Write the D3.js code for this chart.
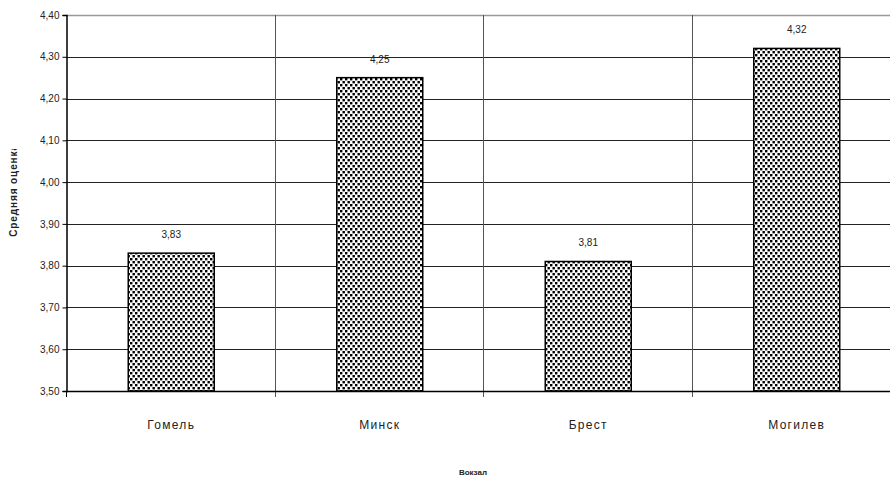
<!DOCTYPE html>
<html>
<head>
<meta charset="utf-8">
<script src="https://cdn.jsdelivr.net/npm/d3@7"></script>
<style>
  html, body { margin: 0; padding: 0; background: #fff; }
  svg { display: block; }
  text { font-family: "Liberation Sans", Arial, sans-serif; fill: #222; }
</style>
</head>
<body>
<div id="chart"></div>
<script>
// Average rating per railway station
const stations = ["Гомель", "Минск", "Брест", "Могилев"];
const ratings = [3.83, 4.25, 3.81, 4.32];
const yTicks = [3.5, 3.6, 3.7, 3.8, 3.9, 4.0, 4.1, 4.2, 4.3, 4.4];
const yTitle = "Средняя оценка";
const xTitle = "Вокзал";

const W = 890, H = 477;
const plot = { left: 66, top: 15, bottom: 391, right: 900 };

const svg = d3.select("#chart").append("svg")
  .attr("width", W).attr("height", H);

// stippled fill for the bars
const defs = svg.append("defs");
const pat = defs.append("pattern")
  .attr("id", "dots").attr("patternUnits", "userSpaceOnUse")
  .attr("width", 5).attr("height", 6);
pat.append("rect").attr("width", 5).attr("height", 6).attr("fill", "#fff");
pat.append("rect").attr("x", 0).attr("y", 0).attr("width", 2.4).attr("height", 2.4).attr("fill", "#000");
pat.append("rect").attr("x", 2.5).attr("y", 3).attr("width", 2.4).attr("height", 2.4).attr("fill", "#000");

// the y-axis title is clipped at its top end
defs.append("clipPath").attr("id", "ytitle-clip")
  .append("rect").attr("x", 0).attr("y", 149).attr("width", 40).attr("height", 200);

const x = d3.scaleBand().domain(stations)
  .range([plot.left, plot.right]).paddingInner(0).paddingOuter(0);
const y = d3.scaleLinear().domain([3.5, 4.4]).range([plot.bottom, plot.top]);

const fmt = v => d3.format(".2f")(v).replace(".", ",");

// horizontal gridlines
svg.append("g").selectAll("line").data(yTicks.slice(1))
  .join("line")
  .attr("x1", plot.left).attr("x2", plot.right)
  .attr("y1", d => Math.round(y(d)) + 0.5).attr("y2", d => Math.round(y(d)) + 0.5)
  .attr("stroke", (d, i, n) => i === n.length - 1 ? "#999" : "#222")
  .attr("stroke-width", (d, i, n) => i === n.length - 1 ? 1.5 : 1);

// vertical category separators
svg.append("g").selectAll("line").data(stations.slice(1))
  .join("line")
  .attr("x1", d => Math.round(x(d)) + 0.5).attr("x2", d => Math.round(x(d)) + 0.5)
  .attr("y1", plot.top).attr("y2", plot.bottom + 6)
  .attr("stroke", "#555").attr("stroke-width", 1);

// bars
const barW = 86;
svg.append("g").selectAll("rect").data(stations)
  .join("rect")
  .attr("x", (d) => x(d) + x.bandwidth() / 2 - barW / 2 + 1)
  .attr("y", (d, i) => y(ratings[i]))
  .attr("width", barW)
  .attr("height", (d, i) => y(3.5) - y(ratings[i]))
  .attr("fill", "url(#dots)")
  .attr("stroke", "#000").attr("stroke-width", 1.5);

// value labels
svg.append("g").selectAll("text").data(stations)
  .join("text")
  .attr("x", d => x(d) + x.bandwidth() / 2 + 1)
  .attr("y", (d, i) => y(ratings[i]) - 15)
  .attr("text-anchor", "middle")
  .attr("font-size", 10)
  .text((d, i) => fmt(ratings[i]));

// y axis
const yAxis = d3.axisLeft(y).tickValues(yTicks).tickFormat(fmt).tickSize(4).tickPadding(3);
const gy = svg.append("g").attr("transform", `translate(${plot.left + 0.5},0)`).call(yAxis);
gy.select(".domain").attr("stroke", "#000").attr("stroke-width", 1.5);
gy.selectAll(".tick line").attr("stroke", "#000");
gy.selectAll(".tick text").attr("font-size", 10).attr("fill", "#222")
  .attr("font-family", "Liberation Sans, Arial, sans-serif");

// x axis baseline with boundary ticks
svg.append("line")
  .attr("x1", plot.left).attr("x2", plot.right)
  .attr("y1", plot.bottom + 0.5).attr("y2", plot.bottom + 0.5)
  .attr("stroke", "#000").attr("stroke-width", 1.5);
svg.append("line")
  .attr("x1", plot.left + 0.5).attr("x2", plot.left + 0.5)
  .attr("y1", plot.bottom).attr("y2", plot.bottom + 6)
  .attr("stroke", "#000");

// category labels
svg.append("g").selectAll("text").data(stations)
  .join("text")
  .attr("x", d => x(d) + x.bandwidth() / 2 + 1)
  .attr("y", 429)
  .attr("text-anchor", "middle")
  .attr("font-size", 12)
  .attr("letter-spacing", 1.3)
  .attr("fill", "#333")
  .text(d => d);

// axis titles
svg.append("g").attr("clip-path", "url(#ytitle-clip)")
  .append("text")
  .attr("transform", `translate(17,${y(3.98)}) rotate(-90)`)
  .attr("text-anchor", "middle")
  .attr("font-size", 10).attr("font-weight", "bold")
  .attr("letter-spacing", 0.9)
  .text(yTitle);

svg.append("text")
  .attr("x", 473).attr("y", 475)
  .attr("text-anchor", "middle")
  .attr("font-size", 8).attr("font-weight", "bold")
  .text(xTitle);
</script>
</body>
</html>
